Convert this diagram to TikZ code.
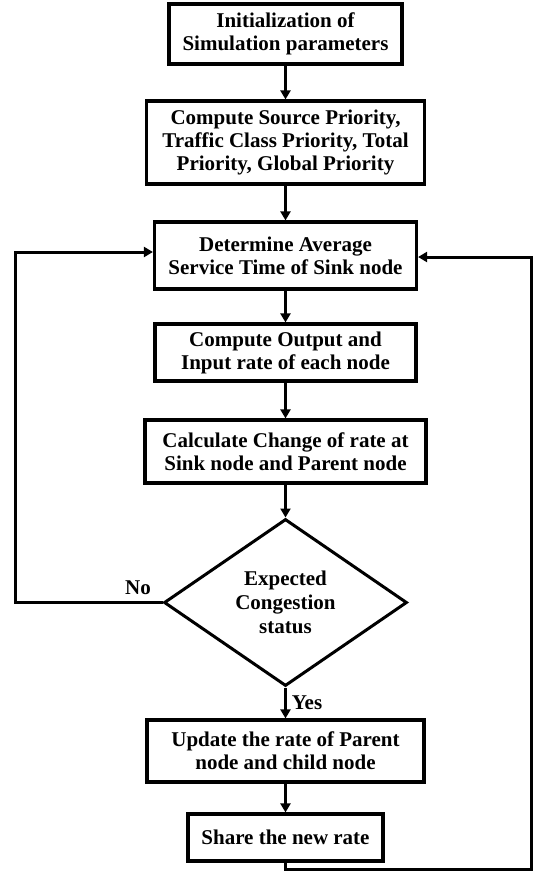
\documentclass[tikz,border=0pt]{standalone}
\usepackage{fontspec}
\setmainfont{Liberation Serif}
\usetikzlibrary{arrows.meta,shapes.geometric}

\tikzset{
  procbox/.style={draw, line width=3.2pt, inner sep=0pt, align=center,
    font=\fontsize{21}{23}\selectfont\bfseries},
  decision/.style={draw, diamond, line width=3pt, inner sep=0pt, align=center,
    aspect=1.455, font=\fontsize{21}{24}\selectfont\bfseries},
  flow/.style={line width=3pt, -{Triangle[length=9pt,width=10pt]}},
  tag/.style={font=\fontsize{21}{23}\selectfont\bfseries}
}

\begin{document}
\begin{tikzpicture}[x=1pt,y=-1pt]
  \useasboundingbox (0,0) rectangle (534,871);

  % process steps
  \node[procbox, minimum width=233pt, minimum height=60pt] (init) at (285.5,34)
    {Initialization of\\Simulation parameters};
  \node[procbox, minimum width=278pt, minimum height=83pt] (prio) at (285.5,142.5)
    {Compute Source Priority,\\Traffic Class Priority, Total\\Priority, Global Priority};
  \node[procbox, minimum width=262pt, minimum height=67pt] (serv) at (285.5,255.5)
    {Determine Average\\Service Time of Sink node};
  \node[procbox, minimum width=261pt, minimum height=57pt] (rate) at (285.5,352.5)
    {Compute Output and\\Input rate of each node};
  \node[procbox, minimum width=281pt, minimum height=63pt] (chg) at (285.5,451.5)
    {Calculate Change of rate at\\Sink node and Parent node};
  \node[decision, minimum width=243pt, minimum height=167pt] (cong) at (285.5,602.5)
    {Expected\\Congestion\\status};
  \node[procbox, minimum width=277pt, minimum height=62pt] (upd) at (285.5,751)
    {Update the rate of Parent\\node and child node};
  \node[procbox, minimum width=195pt, minimum height=47pt] (share) at (285.5,837.5)
    {Share the new rate};

  % main flow
  \draw[flow] (init) -- (prio);
  \draw[flow] (prio) -- (serv);
  \draw[flow] (serv) -- (rate);
  \draw[flow] (rate) -- (chg);
  \draw[flow] (chg) -- (cong);
  \draw[flow] (cong) -- (upd);
  \draw[flow] (upd) -- (share);

  % "No" branch back to the service-time step
  \coordinate (noturn) at (15,252);
  \draw[flow] (cong.west) -| (noturn) -- (serv.west |- noturn);

  % feedback from the last step
  \coordinate (fbbot) at (531,869);
  \coordinate (fbtop) at (531,257);
  \draw[flow] (share.south) |- (fbbot) -- (fbtop) -- (serv.east |- fbtop);

  % branch labels
  \node[tag] (nolbl) at (138,588) {No};
  \node[tag] (yeslbl) at (307,703) {Yes};
\end{tikzpicture}
\end{document}
